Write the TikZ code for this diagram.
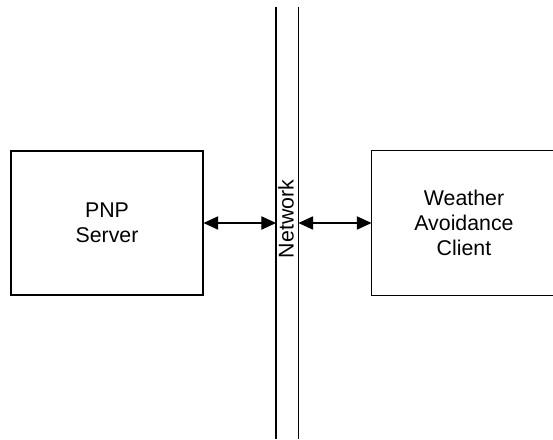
\documentclass[tikz,border=0pt]{standalone}
\usepackage{fontspec}
\setmainfont{Liberation Sans}
\usetikzlibrary{arrows.meta}

\begin{document}
\begin{tikzpicture}[x=0.75pt, y=-0.75pt, line width=0.8pt,
			blk/.style={rectangle, inner sep=0pt, align=center,
							font=\fontsize{16}{19}\selectfont},
			link/.style={{Triangle[length=11pt,width=10pt]}-{Triangle[length=11pt,width=10pt]}}]

		\useasboundingbox (0,0) rectangle (553,439);

		% the two hosts
		\node[blk, draw, minimum width=192*0.75pt, minimum height=144*0.75pt] (srv) at (107,223) {PNP\\Server};
		\node[blk, minimum width=184*0.75pt, minimum height=144*0.75pt] (cli) at (464,223) {Weather\\Avoidance\\Client};
		% client box runs off the right edge
		\draw ([xshift=20pt]cli.north east) -- (cli.north west) -- (cli.south west) -- ([xshift=20pt]cli.south east);

		% network band
		\coordinate (nlt) at (276,7);
		\coordinate (nlb) at (276,439);
		\coordinate (nrt) at (298.5,7);
		\coordinate (nrb) at (298.5,439);
		\draw (nlt) -- (nlb);
		\draw (nrt) -- (nrb);
		\node[rotate=90, inner sep=0pt, font=\fontsize{16}{19}\selectfont] (net) at (286,219) {Network};

		\coordinate (nl) at (276,223);
		\coordinate (nr) at (298.5,223);
		\draw[link] (srv.east) -- (nl);
		\draw[link] (nr) -- (cli.west);
	\end{tikzpicture}
\end{document}
